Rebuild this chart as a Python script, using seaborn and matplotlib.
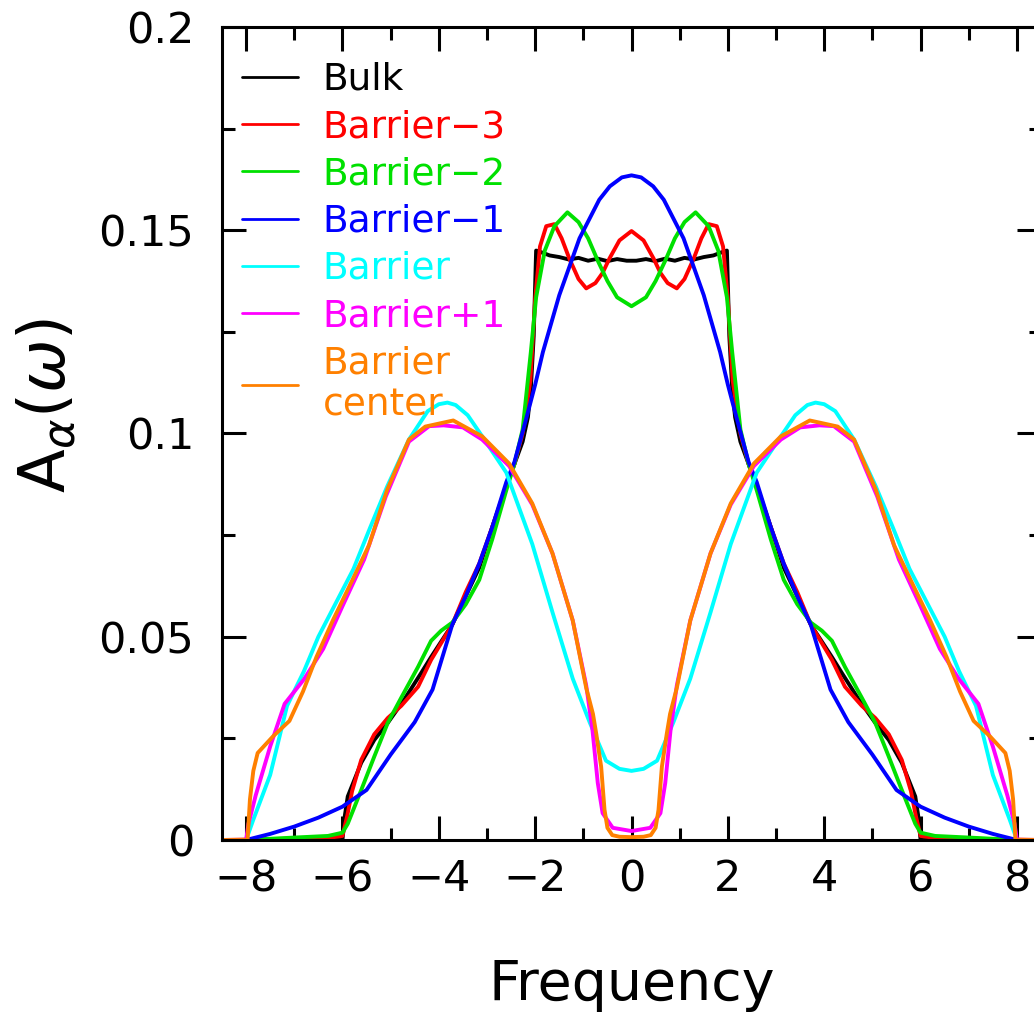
import numpy as np
import pandas as pd
import matplotlib
matplotlib.use("Agg")
import matplotlib.pyplot as plt
import seaborn as sns

# spectral functions, one (x, y) list per layer
bulk_x = [-8.5, -6.0, -5.95, -5.89, -5.61, -5.34, -5.06, -4.72, -4.37, -4.16, -3.72, -3.44, -3.16, -2.89, -2.6, -2.43,
          -2.26, -2.15, -2.09, -2.03, -1.98, -1.9, -1.7, -1.5, -1.3, -1.1, -0.9, -0.7, -0.5, -0.3, -0.1,
          0.1, 0.3, 0.5, 0.7, 0.9, 1.1, 1.3, 1.5, 1.7, 1.9, 1.98, 2.03, 2.09, 2.15, 2.26,
          2.43, 2.6, 2.89, 3.16, 3.44, 3.72, 4.16, 4.37, 4.72, 5.06, 5.34, 5.61, 5.89, 5.95, 6.0, 8.5]
bulk_y = [0.0, 0.0, 0.006, 0.0107, 0.019, 0.0246, 0.0288, 0.0345, 0.041, 0.045, 0.053, 0.060, 0.067, 0.077, 0.087, 0.0925,
          0.098, 0.104, 0.111, 0.124, 0.145, 0.1447, 0.1438, 0.1434, 0.1428, 0.1432, 0.1425, 0.1430, 0.1424, 0.1429, 0.1425,
          0.1425, 0.1429, 0.1424, 0.1430, 0.1425, 0.1432, 0.1428, 0.1434, 0.1438, 0.1447, 0.145, 0.124, 0.111, 0.104, 0.098,
          0.0925, 0.087, 0.077, 0.067, 0.060, 0.053, 0.045, 0.041, 0.0345, 0.0288, 0.0246, 0.019, 0.0107, 0.006, 0.0, 0.0]

bm3_x = [-8.5, -6.3, -6.0, -5.9, -5.8, -5.61, -5.34, -5.06, -4.78, -4.43, -4.16, -3.72, -3.44, -3.16, -2.89, -2.6, -2.43,
         -2.26, -2.1, -2.0, -1.9, -1.77, -1.6, -1.45, -1.29, -1.1, -0.94, -0.75, -0.6, -0.46, -0.25, 0.0,
         0.25, 0.46, 0.6, 0.75, 0.94, 1.1, 1.29, 1.45, 1.6, 1.77, 1.9, 2.0, 2.1, 2.26,
         2.43, 2.6, 2.89, 3.16, 3.44, 3.72, 4.16, 4.43, 4.78, 5.06, 5.34, 5.61, 5.8, 5.9, 6.0, 6.3, 8.5]
bm3_y = [0.0, 0.0005, 0.001, 0.006, 0.012, 0.0197, 0.026, 0.030, 0.033, 0.0377, 0.0443, 0.053, 0.061, 0.068, 0.077, 0.087, 0.0925,
         0.100, 0.113, 0.133, 0.146, 0.151, 0.1515, 0.148, 0.143, 0.138, 0.1357, 0.137, 0.1395, 0.143, 0.1475, 0.1498,
         0.1475, 0.143, 0.1395, 0.137, 0.1357, 0.138, 0.143, 0.148, 0.1515, 0.151, 0.146, 0.133, 0.113, 0.100,
         0.0925, 0.087, 0.077, 0.068, 0.061, 0.053, 0.0443, 0.0377, 0.033, 0.030, 0.026, 0.0197, 0.012, 0.006, 0.001, 0.0005, 0.0]

bm2_x = [-8.5, -8.0, -7.0, -6.3, -6.0, -5.89, -5.61, -5.34, -5.06, -4.78, -4.43, -4.16, -3.95, -3.72, -3.44, -3.16, -2.89,
         -2.6, -2.43, -2.26, -2.09, -1.98, -1.8, -1.6, -1.33, -1.1, -0.9, -0.7, -0.5, -0.3, 0.0,
         0.3, 0.5, 0.7, 0.9, 1.1, 1.33, 1.6, 1.8, 1.98, 2.09, 2.26, 2.43,
         2.6, 2.89, 3.16, 3.44, 3.72, 3.95, 4.16, 4.43, 4.78, 5.06, 5.34, 5.61, 5.89, 6.0, 6.3, 7.0, 8.0, 8.5]
bm2_y = [0.0, 0.0, 0.0006, 0.001, 0.0018, 0.004, 0.0123, 0.0205, 0.0288, 0.035, 0.0426, 0.049, 0.0515, 0.0535, 0.058, 0.064, 0.074,
         0.086, 0.0925, 0.101, 0.120, 0.1335, 0.145, 0.151, 0.1544, 0.152, 0.148, 0.1425, 0.1375, 0.1335, 0.1313,
         0.1335, 0.1375, 0.1425, 0.148, 0.152, 0.1544, 0.151, 0.145, 0.1335, 0.120, 0.101, 0.0925,
         0.086, 0.074, 0.064, 0.058, 0.0535, 0.0515, 0.049, 0.0426, 0.035, 0.0288, 0.0205, 0.0123, 0.004, 0.0018, 0.001, 0.0006, 0.0, 0.0]

bm1_x = [-8.5, -8.0, -7.5, -7.0, -6.5, -6.0, -5.5, -5.0, -4.5, -4.13, -3.72, -3.44, -3.16, -2.89, -2.6, -2.43, -2.2, -2.0,
         -1.84, -1.5, -1.08, -0.67, -0.45, -0.2, 0.0, 0.2, 0.45, 0.67, 1.08, 1.5, 1.84,
         2.0, 2.2, 2.43, 2.6, 2.89, 3.16, 3.44, 3.72, 4.13, 4.5, 5.0, 5.5, 6.0, 6.5, 7.0, 7.5, 8.0, 8.5]
bm1_y = [0.0, 0.0, 0.0015, 0.0033, 0.0055, 0.0082, 0.0123, 0.021, 0.029, 0.037, 0.053, 0.060, 0.068, 0.077, 0.088, 0.093, 0.103, 0.112,
         0.12, 0.134, 0.148, 0.1575, 0.1608, 0.163, 0.1635, 0.163, 0.1608, 0.1575, 0.148, 0.134, 0.12,
         0.112, 0.103, 0.093, 0.088, 0.077, 0.068, 0.060, 0.053, 0.037, 0.029, 0.021, 0.0123, 0.0082, 0.0055, 0.0033, 0.0015, 0.0, 0.0]

bar_x = [-8.5, -8.0, -7.85, -7.5, -7.15, -6.8, -6.5, -6.15, -5.77, -5.42, -5.07, -4.62, -4.23, -4.0, -3.82, -3.65, -3.4,
         -3.1, -2.6, -2.06, -1.64, -1.22, -0.87, -0.53, -0.25, 0.0, 0.25, 0.53, 0.87, 1.22, 1.64, 2.06,
         2.6, 3.1, 3.4, 3.65, 3.82, 4.0, 4.23, 4.62, 5.07, 5.42, 5.77, 6.15, 6.5, 6.8, 7.15, 7.5, 7.85, 8.0, 8.5]
bar_y = [0.0, 0.0, 0.005, 0.016, 0.033, 0.0415, 0.050, 0.058, 0.0667, 0.077, 0.087, 0.0985, 0.1055, 0.1072, 0.1076, 0.107, 0.1045,
         0.0993, 0.0904, 0.0728, 0.056, 0.0397, 0.029, 0.0195, 0.0175, 0.017, 0.0175, 0.0195, 0.029, 0.0397, 0.056, 0.0728,
         0.0904, 0.0993, 0.1045, 0.107, 0.1076, 0.1072, 0.1055, 0.0985, 0.087, 0.077, 0.0667, 0.058, 0.050, 0.0415, 0.033, 0.016, 0.005, 0.0, 0.0]

bp1_x = [-8.5, -8.0, -7.95, -7.8, -7.5, -7.2, -6.8, -6.4, -6.0, -5.55, -5.1, -4.62, -4.2, -3.9, -3.5, -3.1, -2.54, -2.06,
         -1.64, -1.22, -0.94, -0.81, -0.7, -0.6, -0.39, 0.0, 0.39, 0.6, 0.7, 0.81, 0.94, 1.22, 1.64,
         2.06, 2.54, 3.1, 3.5, 3.9, 4.2, 4.62, 5.1, 5.55, 6.0, 6.4, 6.8, 7.2, 7.5, 7.8, 7.95, 8.0, 8.5]
bp1_y = [0.0, 0.0, 0.004, 0.011, 0.023, 0.0335, 0.0395, 0.047, 0.0575, 0.069, 0.0845, 0.098, 0.1018, 0.102, 0.1015, 0.0985, 0.092, 0.0825,
         0.0705, 0.054, 0.038, 0.027, 0.014, 0.0066, 0.003, 0.0022, 0.003, 0.0066, 0.014, 0.027, 0.038, 0.054, 0.0705,
         0.0825, 0.092, 0.0985, 0.1015, 0.102, 0.1018, 0.098, 0.0845, 0.069, 0.0575, 0.047, 0.0395, 0.0335, 0.023, 0.011, 0.004, 0.0, 0.0]

bc_x = [-8.5, -7.97, -7.92, -7.85, -7.76, -7.44, -7.1, -6.82, -6.54, -6.2, -5.8, -5.45, -5.07, -4.62, -4.28, -3.7, -3.1,
        -2.54, -2.06, -1.64, -1.22, -0.94, -0.8, -0.73, -0.63, -0.56, -0.5, -0.4, -0.25, 0.0,
        0.25, 0.4, 0.5, 0.56, 0.63, 0.73, 0.8, 0.94, 1.22, 1.64, 2.06, 2.54,
        3.1, 3.7, 4.28, 4.62, 5.07, 5.45, 5.8, 6.2, 6.54, 6.82, 7.1, 7.44, 7.76, 7.85, 7.92, 7.97, 8.5]
bc_y = [0.0, 0.0, 0.01, 0.017, 0.0214, 0.0255, 0.0293, 0.0365, 0.045, 0.054, 0.0638, 0.0725, 0.0862, 0.0985, 0.1017, 0.1032, 0.0993,
        0.0926, 0.0828, 0.0705, 0.054, 0.0374, 0.031, 0.026, 0.018, 0.0074, 0.003, 0.0012, 0.0008, 0.0007,
        0.0008, 0.0012, 0.003, 0.0074, 0.018, 0.026, 0.031, 0.0374, 0.054, 0.0705, 0.0828, 0.0926,
        0.0993, 0.1032, 0.1017, 0.0985, 0.0862, 0.0725, 0.0638, 0.054, 0.045, 0.0365, 0.0293, 0.0255, 0.0214, 0.017, 0.01, 0.0, 0.0]

labels = ["Bulk", "Barrier\u22123", "Barrier\u22122", "Barrier\u22121", "Barrier", "Barrier+1", "Barrier\ncenter"]
colors = ["#000000", "#ff0000", "#00e000", "#0000ff", "#00ffff", "#ff00ff", "#ff8000"]
series = [(bulk_x, bulk_y), (bm3_x, bm3_y), (bm2_x, bm2_y), (bm1_x, bm1_y),
          (bar_x, bar_y), (bp1_x, bp1_y), (bc_x, bc_y)]

frames = []
for lab, (xs, ys) in zip(labels, series):
    frames.append(pd.DataFrame({"freq": xs, "A": ys, "layer": lab}))
df = pd.concat(frames, ignore_index=True)

sns.set_style("ticks")
plt.rcParams["font.family"] = ["DejaVu Sans"]
plt.rcParams["mathtext.fontset"] = "dejavusans"
for key in ["text.color", "axes.labelcolor", "xtick.color", "ytick.color", "axes.edgecolor"]:
    plt.rcParams[key] = "black"

fig = plt.figure(figsize=(10.34, 10.14), dpi=100)
ax = fig.add_axes([0.2147, 0.1716, 0.7921, 0.8018])

sns.lineplot(data=df, x="freq", y="A", hue="layer", hue_order=labels,
             palette=dict(zip(labels, colors)), sort=False, estimator=None,
             units="layer", linewidth=2.8, ax=ax)

ax.set_xlim(-8.5, 8.5)
ax.set_ylim(0, 0.2)
ax.set_xticks([-8, -6, -4, -2, 0, 2, 4, 6, 8])
ax.set_xticklabels(["\u22128", "\u22126", "\u22124", "\u22122", "0", "2", "4", "6", "8"])
ax.set_xticks(np.arange(-7, 8, 2), minor=True)
ax.set_yticks([0, 0.05, 0.1, 0.15, 0.2])
ax.set_yticklabels(["0", "0.05", "0.1", "0.15", "0.2"])
ax.set_yticks([0.025, 0.075, 0.125, 0.175], minor=True)
ax.tick_params(which="both", direction="in", top=True, right=True, width=2.2, labelsize=31)
ax.tick_params(axis="x", which="major", length=17, pad=13)
ax.tick_params(axis="y", which="major", length=17, pad=20)
ax.tick_params(which="minor", length=9)
for sp in ax.spines.values():
    sp.set_linewidth(2.2)

ax.set_xlabel("Frequency", fontsize=40, va="center")
ax.xaxis.set_label_coords(0.5, -0.178)
ax.set_ylabel(r"A$_\alpha$($\omega$)", fontsize=46, va="center")
ax.yaxis.set_label_coords(-0.215, 0.535)

leg = ax.legend(loc="upper left", bbox_to_anchor=(0.0244, 0.957), frameon=False, fontsize=27,
                labelcolor="linecolor", handlelength=1.5, handletextpad=0.65, labelspacing=0.3,
                borderaxespad=0, borderpad=0)
for h in leg.legend_handles:
    h.set_linewidth(2.0)

fig.savefig("out.png", dpi=100)
